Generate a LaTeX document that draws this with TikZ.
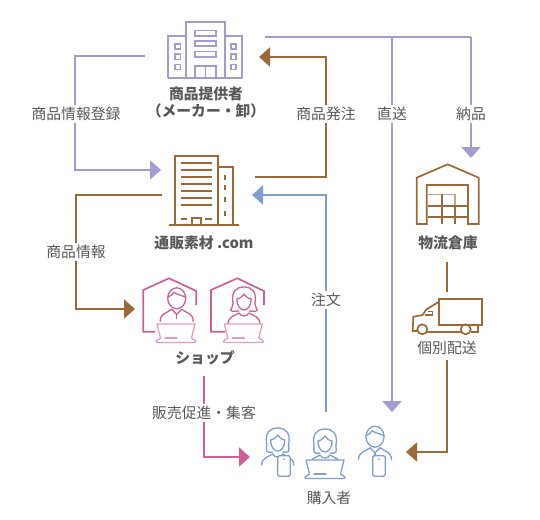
\documentclass[tikz,border=0pt]{standalone}
\usepackage{fontspec}
\setmainfont{Noto Sans CJK JP}
\usetikzlibrary{arrows.meta}

\definecolor{purpleline}{HTML}{A29DCE}
\definecolor{brownline}{HTML}{9C6A38}
\definecolor{blueline}{HTML}{7F9FD2}
\definecolor{pinkline}{HTML}{CE5F99}
\definecolor{pinklight}{HTML}{E39DC2}
\definecolor{labelgray}{HTML}{595959}

\tikzset{
  flow/.style={line width=2pt, -{Triangle[length=11pt,width=19pt]}},
  flowplain/.style={line width=2pt},
  steplabel/.style={text=labelgray, fill=white, inner sep=2pt, font={\fontsize{14.8}{17}\selectfont}},
  namelabel/.style={text=labelgray, inner sep=0pt, align=center, font={\fontsize{14.8}{17}\selectfont\bfseries}},
  icon/.style={line width=1.7pt, line join=miter},
  thinicon/.style={line width=1.3pt, line join=round, line cap=round},
  pics/manface/.style={code={
    \draw [thinicon, #1] (0,0) ellipse [x radius=9, y radius=10.5];
    \draw [thinicon, #1] (-9,-1) .. controls (-6,-2) and (-4,-4) .. (-3,-6) .. controls (1,-3) and (6,-3) .. (9,-1);
    \draw [thinicon, #1] (-16.5,23) .. controls (-16.5,15) and (-10,15) .. (-5,11) -- (0,16) -- (5,11) .. controls (10,15) and (16.5,15) .. (16.5,23);
    \draw [thinicon, #1] (0,16) -- (0,20);
  }},
  pics/womanface/.style 2 args={code={
    \draw [thinicon, #1] (-7,-1) .. controls (-3,-2) and (-1,-4) .. (0,-6) .. controls (1,-4) and (3,-2) .. (7,-1);
    \draw [thinicon, #1] (-7,-1) .. controls (-7,7) and (-3,10) .. (0,10) .. controls (3,10) and (7,7) .. (7,-1);
    \draw [thinicon, #1] (-5,11) .. controls (-#2,12) and (-11,10) .. (-11,3) .. controls (-13,-8) and (-8,-13) .. (0,-13) .. controls (8,-13) and (13,-8) .. (11,3) .. controls (11,10) and (#2,12) .. (5,11);
    \draw [thinicon, #1] (-16,24) .. controls (-16,17) and (-10,16) .. (-5,13) .. controls (-3,17) and (3,17) .. (5,13) .. controls (10,16) and (16,17) .. (16,24);
  }},
  pics/laptop/.style={code={
    \draw [thinicon, #1, fill=white] (-15.5,14) -- (-19,0) -- (19,0) -- (15.5,14);
    \draw [thinicon, #1, fill=white, rounded corners=1pt] (-15.5,14) -- (-20,17) -- (-20,18.5) -- (20,18.5) -- (20,17) -- (15.5,14);
    \draw [thinicon, #1] (-11,14) -- (1,14);
  }},
  pics/phone/.style={code={
    \draw [thinicon, #1, fill=white, rounded corners=1.5pt] (0,0) rectangle (12.5,20.5);
    \fill [#1] (6.2,3.5) circle (1);
  }}
}

\begin{document}
\begin{tikzpicture}[x=1pt, y=-1pt]

\useasboundingbox (0,0) rectangle (540,519);

\coordinate (maker-w) at (145,56);
\coordinate (maker-e) at (265,37);
\coordinate (maker-in) at (259,57);
\coordinate (mail-in) at (161,170);
\coordinate (mail-out) at (162,195);
\coordinate (mail-e) at (255,177);
\coordinate (mail-order) at (252,195);
\coordinate (shop-in) at (135,309);
\coordinate (shop-s) at (204,376);
\coordinate (ware-n) at (471,158);
\coordinate (ware-s) at (447,262);
\coordinate (truck-n) at (447,292);
\coordinate (truck-s) at (447,360);
\coordinate (buyer-w) at (250,457);
\coordinate (buyer-e) at (406,452);
\coordinate (buyer-n) at (392,412);
\coordinate (buyer-out) at (326,412);

% maker
\draw [icon, purpleline] (168.3,78.3) -- (241.7,78.3);
\draw [icon, purpleline] (185.7,78.3) -- (185.7,22) -- (225,22) -- (225,78.3);
\draw [icon, purpleline] (185.7,36) -- (168.3,36) -- (168.3,78.3);
\draw [icon, purpleline] (225,36) -- (241.7,36) -- (241.7,78.3);
\foreach \y in {30.7,41,51.7}
  \draw [icon, purpleline, line width=1.6pt] (195,\y) rectangle (216,\y+5.2);
\foreach \x in {175,230.7}
  \foreach \y in {44.3,54.3,64.3}
    \draw [icon, purpleline, line width=1.6pt] (\x,\y) rectangle (\x+5.3,\y+5);
\draw [icon, purpleline, line width=1.6pt] (195,78.3) -- (195,66) -- (216,66) -- (216,78.3) (205.5,66) -- (205.5,78.3);

% mail-order site
\draw [icon, brownline] (169,225) -- (239.3,225);
\draw [icon, brownline] (175,225) -- (175,156) -- (217.7,156) -- (217.7,225);
\draw [icon, brownline] (217.7,167.3) -- (233,167.3) -- (233,225);
\foreach \y in {162.7,169.7,177,184,191,198,205}
  \draw [icon, brownline] (180.7,\y) -- (211.7,\y);
\draw [icon, brownline] (180.7,219) -- (187.3,219) (205,219) -- (211.7,219);
\draw [icon, brownline] (192.3,225) -- (192.3,217.7) -- (200.7,217.7) -- (200.7,225);
\foreach \y in {175,185,196.7,211}
  \draw [icon, brownline] (224.7,\y) -- (224.7,\y+5);

% shop
\draw [icon, pinkline] (155,331.7) -- (143.3,331.7) -- (143.3,290) -- (169,278.3) -- (196.3,291) -- (196.3,305);
\draw [icon, pinkline] (225,331.7) -- (211,331.7) -- (211,290) -- (237.3,278.3) -- (264,291) -- (264,305);
\pic at (176.7,298.3) {manface=pinkline};
\pic at (244,300) {womanface={pinkline}{19}};
\pic at (176,324) {laptop=pinklight};
\pic at (243.3,324) {laptop=pinklight};

% warehouse
\draw [icon, brownline] (426.7,224) -- (416.7,224) -- (416.7,177.7) -- (447.7,164.3) -- (478.7,177.7) -- (478.7,224) -- (468,224) -- (468,185) -- (426.7,185) -- cycle;
\draw [icon, brownline!60, line width=1.6pt] (428,194.3) -- (455,194.3) -- (455,205.7);
\draw [icon, brownline, line width=1.6pt] (428,205.7) -- (467,205.7) (428,216.7) -- (467,216.7);
\draw [icon, brownline, line width=1.6pt] (441.7,194.3) -- (441.7,224) (455,205.7) -- (455,224);

% truck
\draw [icon, brownline] (439,299) rectangle (482.3,325);
\draw [icon, brownline, line join=round] (439,301.7) -- (426,309.7) -- (422.7,315 ) -- (413.3,316.7) -- (412.7,331) -- (417,331);
\draw [icon, brownline, line width=1.5pt] (425,315) -- (432.3,315) -- (432.3,311.7) -- (428,311.7);
\draw [icon, brownline] (422.3,329.3) circle (5);
\draw [icon, brownline] (465.7,329.3) circle (5);
\draw [icon, brownline] (427.3,331.7) -- (460.7,331.7) (470.7,331.7) -- (478.3,331.7) -- (478.3,325);

% buyers
\pic at (277.7,441) {womanface={blueline}{13}};
\pic at (325,442) {womanface={blueline}{13}};
\pic at (375,436.7) {manface=blueline};
\pic at (277.7,455.7) {phone=blueline};
\pic at (372.7,455.7) {phone=blueline};
\pic at (325,460) {laptop=blueline};

% connectors
\draw [flowplain, purpleline] (maker-e) -- (ware-n |- maker-e);
\draw [flow, purpleline] (ware-n |- maker-e) -- (ware-n);
\draw [flow, purpleline] (buyer-n |- maker-e) -- (buyer-n);
\draw [flow, purpleline] (maker-w) -- (75,56) -- (75,170) -- (mail-in);
\draw [flow, brownline] (mail-e) -- (326,177) -- (326,57) -- (maker-in);
\draw [flow, brownline] (mail-out) -- (76,195) -- (76,309) -- (shop-in);
\draw [flow, blueline] (buyer-out) -- (buyer-out |- mail-order) -- (mail-order);
\draw [flow, pinkline] (shop-s) -- (shop-s |- buyer-w) -- (buyer-w);
\draw [flowplain, brownline] (ware-s) -- (truck-n);
\draw [flow, brownline] (truck-s) -- (truck-s |- buyer-e) -- (buyer-e);

\node [steplabel] (l-regist) at (76,114) {商品情報登録};
\node [steplabel] (l-order) at (326,114) {商品発注};
\node [steplabel] (l-direct) at (392,114) {直送};
\node [steplabel] (l-deliver) at (471,114) {納品};
\node [steplabel] (l-info) at (76,252) {商品情報};
\node [steplabel] (l-chumon) at (326,300) {注文};
\node [steplabel] (l-promo) at (204,413) {販売促進・集客};
\node [steplabel, fill=none] (l-ship) at (447,348) {個別配送};

\node [namelabel] (maker) at (206,102.5) {商品提供者\\（メーカー・卸）};
\node [namelabel] (mail) at (204,243) {通販素材 .com};
\node [namelabel] (ware) at (448,243) {物流倉庫};
\node [namelabel] (shop) at (205,358) {ショップ};
\node [steplabel, fill=none] (buyer) at (329,498) {購入者};

\end{tikzpicture}
\end{document}
